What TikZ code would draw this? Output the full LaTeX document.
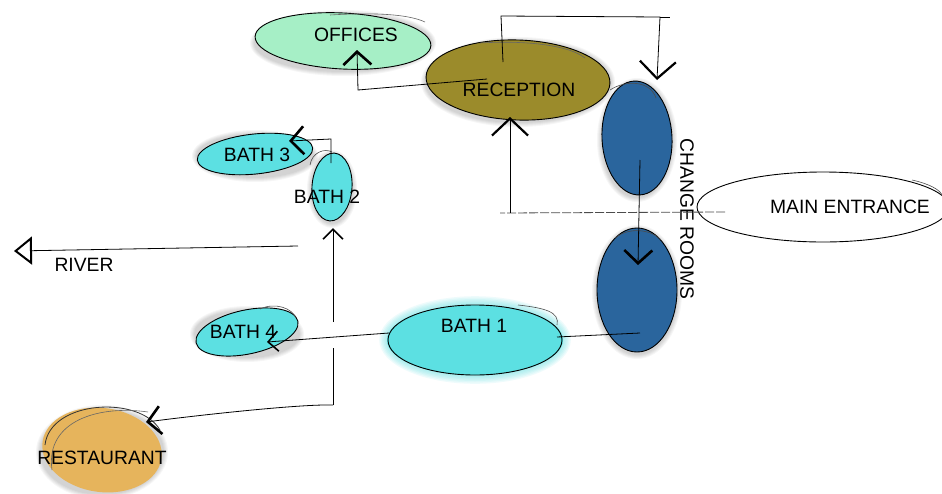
\documentclass[tikz,border=0pt]{standalone}
\usepackage{fontspec}
\setmainfont{Liberation Sans}
\usetikzlibrary{arrows.meta,shapes.geometric}

\definecolor{mint}{HTML}{A6EFC6}
\definecolor{olive}{HTML}{9B8B2B}
\definecolor{roomblue}{HTML}{2A659D}
\definecolor{poolcyan}{HTML}{5CE0E2}
\definecolor{sand}{HTML}{E6B45C}

\begin{document}
\begin{tikzpicture}[x=1pt,y=-1pt,
  blob/.style={ellipse, draw=black, line width=0.9pt, inner sep=0pt},
  lbl/.style={font=\fontsize{19.3}{22}\selectfont, inner sep=0pt},
  link/.style={draw=black, line width=0.8pt},
  arr/.style={link, -{Straight Barb[length=17pt,width=36pt,line width=2.2pt]}},
  boldarr/.style={link, -{Straight Barb[length=13pt,width=28pt,line width=2.6pt]}},
  smallarr/.style={link, -{Straight Barb[length=10pt,width=20pt,line width=1.6pt]}},
  openarr/.style={link, -{Triangle[open,length=18pt,width=28pt,line width=2pt]}},
  faint/.style={draw=black!70, line width=0.8pt, dash pattern=on 9pt off 2pt},
]
\useasboundingbox (0,0) rectangle (942,493);
\fill[white] (0,0) rectangle (942,493);
\clip (0,0) rectangle (942,493);

% soft shadows under the areas
\foreach \cx/\cy/\rx/\ry in {343/42/88/28, 518/81/92/40, 637/139/35/57, 637/291/40/62,
                             255/155/58/21, 332/188/20/34, 247/333/52/23, 102/451/61/42}{
  \foreach \k in {1,...,5}
    \fill[black, opacity=0.035] (\cx,\cy+1) ellipse [x radius=\rx pt+\k pt, y radius=\ry pt+\k pt];
}
% cyan haze around the main pool
\foreach \k in {1,...,7}
  \fill[poolcyan, opacity=0.10] (475,340) ellipse [x radius=86pt+1.4pt*\k, y radius=34pt+1.4pt*\k];

% areas
\node[blob, fill=mint, minimum width=176pt, minimum height=56pt, rotate=-3] (off) at (343,41) {};
\node[blob, fill=olive, minimum width=184pt, minimum height=80pt, rotate=-2] (rec) at (518,80) {};
\node[blob, fill=roomblue, minimum width=70pt, minimum height=114pt, rotate=3] (cr1) at (637,138) {};
\node[blob, fill=roomblue, minimum width=80pt, minimum height=124pt] (cr2) at (637,290) {};
\node[blob, fill=white, minimum width=252pt, minimum height=70pt] (ent) at (823,207) {};
\node[blob, fill=poolcyan, minimum width=116pt, minimum height=40pt, rotate=6] (b3) at (255,154) {};
\node[blob, fill=poolcyan, minimum width=40pt, minimum height=68pt, rotate=-4] (b2) at (332,187) {};
\node[blob, fill=poolcyan, minimum width=104pt, minimum height=44pt, rotate=12] (b4) at (247,332) {};
\node[blob, fill=poolcyan, draw=none, minimum width=176pt, minimum height=70pt] (b1) at (475,340) {};
\draw[black, line width=0.9pt] (b1.center) ellipse [x radius=87pt, y radius=35pt];
\node[blob, fill=sand, draw=none, minimum width=120pt, minimum height=84pt, rotate=-8] (rest) at (102,450) {};
\draw[black!80, line width=0.8pt] (45,445) .. controls (50,400) and (140,395) .. (160,430);
\draw[black!60, line width=0.6pt] (52,470) .. controls (45,420) and (100,405) .. (148,412);

% sketch strokes
\draw[black!60, line width=0.6pt] (330,15) .. controls (380,12) and (410,15) .. (425,22);
\draw[black!60, line width=0.6pt] (480,43) .. controls (530,40) and (570,46) .. (585,58);
\draw[black!70, line width=0.6pt] (610,90) .. controls (625,80) and (650,80) .. (656,98);
\draw[black!70, line width=0.6pt] (615,238) .. controls (630,226) and (652,230) .. (661,240);
\draw[black!70, line width=0.6pt] (310,165) .. controls (312,152) and (325,148) .. (332,152);
\draw[black!70, line width=0.6pt] (518,305) .. controls (545,308) and (560,312) .. (557,325);
\draw[black!70, line width=0.6pt] (260,309) .. controls (275,302) and (292,308) .. (296,318);
\draw[black!70, line width=0.6pt] (912,180) .. controls (930,184) and (940,190) .. (942,195);

% labels
\node[lbl] (offT) at (356,35) {OFFICES};
\node[lbl] (recT) at (519,90) {RECEPTION};
\node[lbl, rotate=-90] (crT) at (687,219) {CHANGE ROOMS};
\node[lbl] (entT) at (850,207) {MAIN ENTRANCE};
\node[lbl] (b3T) at (257,155) {BATH 3};
\node[lbl] (b2T) at (327,197) {BATH 2};
\node[lbl] (b4T) at (243,332) {BATH 4};
\node[lbl] (b1T) at (474,326) {BATH 1};
\node[lbl] (restT) at (102,458) {RESTAURANT};
\node[lbl] (riverT) at (84,265) {RIVER};

% way points
\coordinate (recA) at (487,79);
\coordinate (recOff) at (358,90);
\coordinate (offIn) at (357,50);
\coordinate (recB) at (503,62);
\coordinate (topL) at (501,16);
\coordinate (topR) at (660,17);
\coordinate (cr1In) at (657,80);
\coordinate (entA) at (725,212);
\coordinate (entL) at (500,213);
\coordinate (recUp) at (510,213);
\coordinate (recIn) at (510,117);
\coordinate (cr1A) at (640,160);
\coordinate (cr2In) at (638,265);
\coordinate (cr2A) at (640,333);
\coordinate (b1R) at (557,337);
\coordinate (b1L) at (389,333);
\coordinate (b4In) at (267,342);
\coordinate (junc) at (333,405);
\coordinate (gapLo) at (333,348);
\coordinate (gapHi) at (333,322);
\coordinate (b2In) at (333,228);
\coordinate (restIn) at (146,422);
\coordinate (b2A) at (331,163);
\coordinate (b2Top) at (331,139);
\coordinate (b3In) at (289,141);
\coordinate (riverA) at (298,246);
\coordinate (riverEnd) at (14,251);

% connectors
\draw[boldarr] (recA) -- (recOff) -- (offIn);
\draw[arr] (recB) -- (topL) -- (topR) -- (cr1In);
\draw[link] (topR) -- ++(10,0);
\draw[faint] (entA) -- (entL);
\draw[arr] (recUp) -- (recIn);
\draw[boldarr] (cr1A) -- (cr2In);
\draw[link] (cr2A) -- (b1R);
\draw[smallarr] (b1L) -- (b4In);
\draw[link] (junc) -- (gapLo);
\draw[smallarr] (gapHi) -- (b2In);
\draw[boldarr] (junc) .. controls (300,404) and (200,415) .. (restIn);
\draw[boldarr] (b2A) -- (b2Top) -- (b3In);
\draw[openarr] (riverA) -- (riverEnd);
\end{tikzpicture}
\end{document}
